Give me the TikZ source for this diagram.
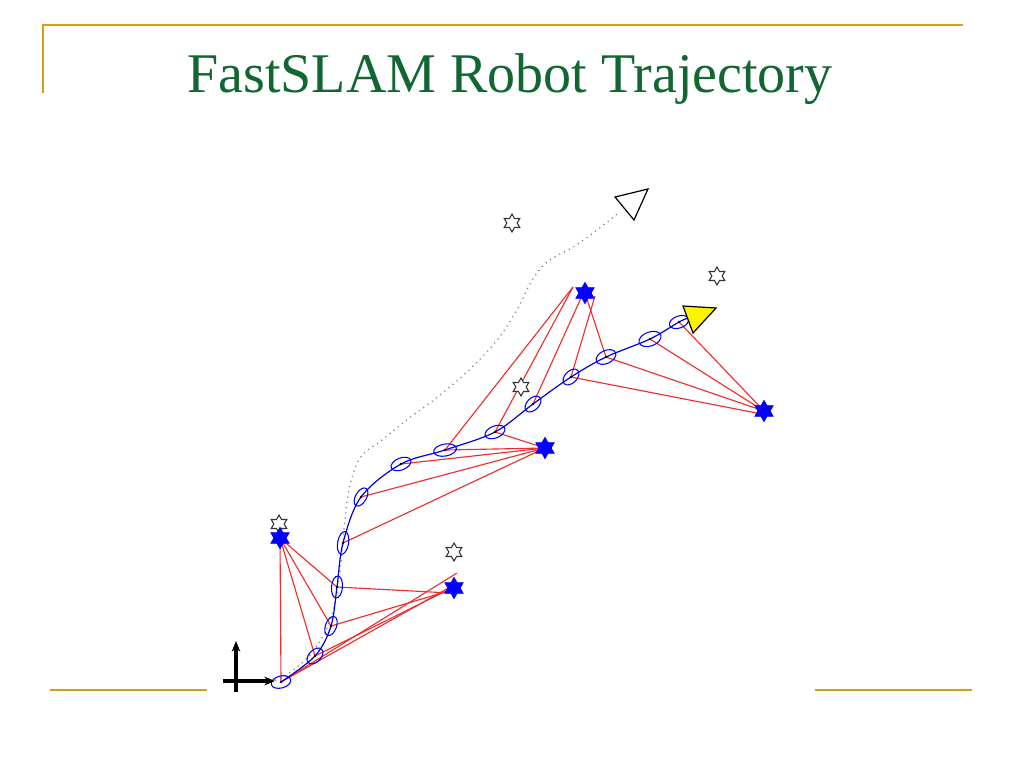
\documentclass[tikz,border=0pt]{standalone}
\usepackage{fontspec}
\setmainfont{Liberation Serif}
\usetikzlibrary{shapes.geometric, arrows.meta}
\definecolor{gold}{RGB}{212,160,23}
\definecolor{titlegreen}{RGB}{18,102,50}
\definecolor{obsred}{RGB}{240,45,45}
\begin{document}
\begin{tikzpicture}[x=0.75pt,y=-0.75pt,
  truelm/.style={star, star points=6, star point ratio=1.75, draw=black!80, fill=white, line width=0.8pt, minimum size=13.5pt, inner sep=0pt},
  estlm/.style={star, star points=6, star point ratio=1.75, draw=blue, fill=blue, line width=0.5pt, minimum size=16pt, inner sep=0pt},
  obs/.style={draw=obsred, line width=0.85pt},
  cov/.style={draw=blue, line width=0.8pt},
  estpath/.style={draw=blue!85!black, line width=0.9pt},
  truepath/.style={draw=gray, line width=1pt, dash pattern=on 0.8pt off 3.2pt},
  rule/.style={draw=gold, line width=2pt},
  axis/.style={draw=black, line width=2.3pt, -{Stealth[length=8pt,width=6.5pt]}},
  meandot/.style={fill=black},
]
\useasboundingbox[fill=white] (0,0) rectangle (1024,768);
% frame rules
\draw[rule] (42,25) -- (963,25);
\draw[rule, line width=1.5pt] (43,25) -- (43,93);
\draw[rule] (50,690) -- (207,690);
\draw[rule] (815,690) -- (972,690);
% title
\node[anchor=base, text=titlegreen, font=\fontsize{42}{50}\selectfont, inner sep=0pt] (title) at (510,92) {FastSLAM Robot Trajectory};

% poses
\coordinate (p0) at (281,682);
\coordinate (p1) at (315,656);
\coordinate (p2) at (331,626);
\coordinate (p3) at (337,587);
\coordinate (p4) at (343,543);
\coordinate (p5) at (361,497);
\coordinate (p6) at (401,464);
\coordinate (p7) at (445,450);
\coordinate (p8) at (495,432);
\coordinate (p9) at (533,404);
\coordinate (p10) at (571,377);
\coordinate (p11) at (606,357);
\coordinate (p12) at (650,339);
\coordinate (p13) at (679,322);
\coordinate (origin) at (236,681);

% landmark positions
\coordinate (e1c) at (280,538);
\coordinate (e2c) at (454,588);
\coordinate (e3c) at (545,448);
\coordinate (e4c) at (585,293);
\coordinate (e5c) at (764,411);

% observation free ends
\coordinate (a1) at (457,573);
\coordinate (a2) at (452,586);
\coordinate (a3) at (454,587);
\coordinate (a4) at (452,590);
\coordinate (a5) at (450,593);
\coordinate (b1) at (573,287);
\coordinate (b2) at (581,298);
\coordinate (b3) at (595,296);
\coordinate (c1) at (767,415);

% true path
\draw[truepath] plot[smooth, tension=0.6] coordinates {(238,681) (276,680) (308,657) (327,628) (336,597) (341,562) (344,530) (349,490) (360,458) (382,440) (408,419) (435,399) (468,371) (498,339) (518,308) (531,282) (547,262) (573,247) (597,230) (617,214)};

% observations
\draw[obs] (e1c) -- (p0);
\draw[obs] (e1c) -- (p1);
\draw[obs] (e1c) -- (p2);
\draw[obs] (e1c) -- (p3);
\draw[obs] (p0) -- (a1);
\draw[obs] (p0) -- (a2);
\draw[obs] (p1) -- (a3);
\draw[obs] (p2) -- (a4);
\draw[obs] (p3) -- (a5);
\draw[obs] (p4) -- (e3c);
\draw[obs] (p5) -- (e3c);
\draw[obs] (p6) -- (e3c);
\draw[obs] (p7) -- (e3c);
\draw[obs] (p8) -- (e3c);
\draw[obs] (p7) -- (b1);
\draw[obs] (p8) -- (b1);
\draw[obs] (p9) -- (b2);
\draw[obs] (p10) -- (b3);
\draw[obs] (p11) -- (e4c);
\draw[obs] (p10) -- (c1);
\draw[obs] (p11) -- (e5c);
\draw[obs] (p12) -- (e5c);
\draw[obs] (p13) -- (e5c);

% estimated path
\draw[estpath] plot[smooth, tension=0.55] coordinates {(p0) (p1) (p2) (p3) (p4) (p5) (p6) (p7) (p8) (p9) (p10) (p11) (p12) (p13) (688,318)};

% covariance ellipses
\draw[cov, rotate around={15:(p0)}] (p0) ellipse [x radius=10, y radius=6];
\draw[cov, rotate around={45:(p1)}] (p1) ellipse [x radius=9.5, y radius=6];
\draw[cov, rotate around={70:(p2)}] (p2) ellipse [x radius=10, y radius=5.5];
\draw[cov, rotate around={85:(p3)}] (p3) ellipse [x radius=11, y radius=5.5];
\draw[cov, rotate around={80:(p4)}] (p4) ellipse [x radius=11.5, y radius=5.5];
\draw[cov, rotate around={60:(p5)}] (p5) ellipse [x radius=10, y radius=5.5];
\draw[cov, rotate around={22:(p6)}] (p6) ellipse [x radius=10.5, y radius=6];
\draw[cov, rotate around={10:(p7)}] (p7) ellipse [x radius=11.5, y radius=6];
\draw[cov, rotate around={22:(p8)}] (p8) ellipse [x radius=10.5, y radius=6];
\draw[cov, rotate around={45:(p9)}] (p9) ellipse [x radius=9.5, y radius=6];
\draw[cov, rotate around={45:(p10)}] (p10) ellipse [x radius=9.5, y radius=6];
\draw[cov, rotate around={25:(p11)}] (p11) ellipse [x radius=10.5, y radius=6.5];
\draw[cov, rotate around={20:(p12)}] (p12) ellipse [x radius=11.5, y radius=7];
\draw[cov, rotate around={20:(p13)}] (p13) ellipse [x radius=10, y radius=6];
\foreach \p in {p0,p1,p2,p3,p4,p5,p6,p7,p8,p9,p10,p11,p12,p13}
  \fill[meandot] (\p) circle [radius=1.4];

% origin axes
\draw[axis] (236,692) -- (236,641);
\draw[axis] (223,681) -- (275,681);

% true landmarks
\node[truelm] (t1) at (279,524) {};
\node[truelm] (t2) at (454,552) {};
\node[truelm] (t3) at (521,387) {};
\node[truelm] (t4) at (512,223) {};
\node[truelm] (t5) at (717,276) {};

% estimated landmarks
\node[estlm] (e1) at (e1c) {};
\node[estlm] (e2) at (e2c) {};
\node[estlm] (e3) at (e3c) {};
\node[estlm] (e4) at (e4c) {};
\node[estlm] (e5) at (e5c) {};

% robot poses
\draw[fill=yellow, draw=black, line width=0.9pt, line join=miter] (683,306) -- (716,308) -- (693,333) -- cycle;
\draw[fill=white, draw=black, line width=0.9pt, line join=miter] (615,197) -- (648,189) -- (634,220) -- cycle;
\end{tikzpicture}
\end{document}
